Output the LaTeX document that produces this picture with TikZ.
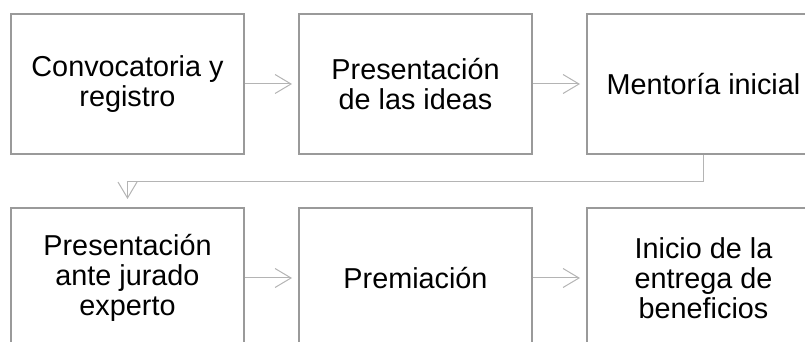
\documentclass[tikz,border=0pt]{standalone}
\usepackage{fontspec}
\setmainfont{Liberation Sans}
\usetikzlibrary{positioning,arrows.meta}
\definecolor{gris_bord}{HTML}{9A9A9A}
\definecolor{gris_fleche}{HTML}{B4B4B4}

\begin{document}
\begin{tikzpicture}[x=1pt,y=1pt,
    etape/.style={draw=gris_bord, line width=2pt, minimum width=233pt, minimum height=140pt,
        align=center, inner sep=0pt, font=\fontsize{28.8}{30}\selectfont},
    fleche/.style={draw=gris_fleche, line width=1pt, -{Straight Barb[length=16pt,width=19pt]}, shorten >=6pt}]

    % Cadre de la figure
    \useasboundingbox (0,0) rectangle (805,342);
    \clip (0,0) rectangle (805,342);

    % Première ligne d'étapes
    \node[etape] (convocatoria) at (127.5,258) {Convocatoria y\\registro};
    \node[etape, right=53pt of convocatoria] (presentacion) {Presentación\\de las ideas};
    \node[etape, right=53pt of presentacion] (mentoria) {Mentoría inicial};

    % Deuxième ligne d'étapes
    \node[etape] (jurado) at (127.5,64) {Presentación\\ante jurado\\experto};
    \node[etape, right=53pt of jurado] (premiacion) {Premiación};
    \node[etape, right=53pt of premiacion] (inicio) {Inicio de la\\entrega de\\beneficios};

    % Flèches entre les étapes
    \draw[fleche] (convocatoria) -- (presentacion);
    \draw[fleche] (presentacion) -- (mentoria);
    \draw[fleche, shorten >=8pt] (mentoria.south) -- ++(0,-27) -| (jurado.north);
    \draw[fleche] (jurado) -- (premiacion);
    \draw[fleche] (premiacion) -- (inicio);
\end{tikzpicture}
\end{document}
